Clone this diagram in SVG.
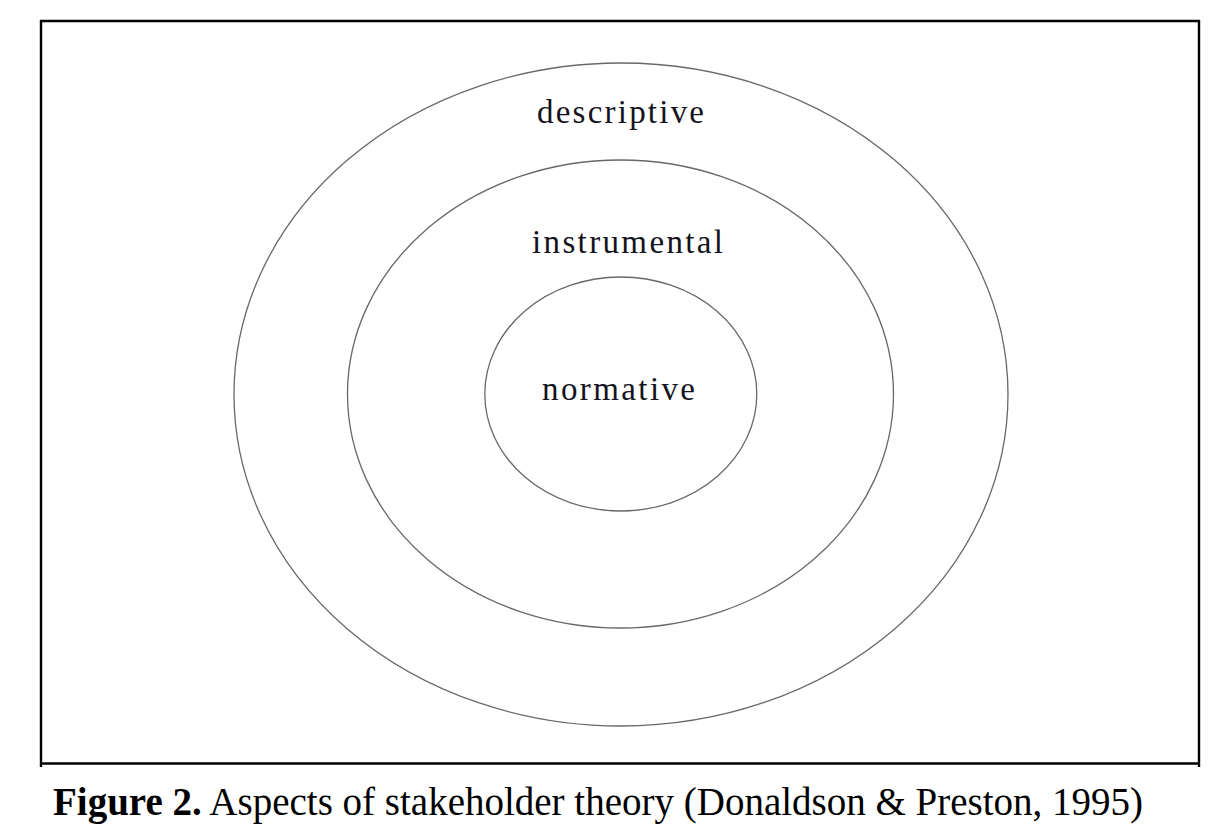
<svg xmlns="http://www.w3.org/2000/svg" width="1230" height="834" viewBox="0 0 1230 834">
  <style>
    .ring { fill: none; stroke: #686868; stroke-width: 1.3; }
    .frame { stroke: #000; stroke-width: 2.4; fill: none; }
    .lbl { font-family: "Liberation Serif", "Times New Roman", serif; font-size: 33px; fill: #141420; }
    .cap { font-family: "Liberation Serif", "Times New Roman", serif; font-size: 39px; fill: #000; }
  </style>
  <rect width="1230" height="834" fill="#fff"/>
  <g id="frame">
    <line class="frame" x1="40" y1="21" x2="1200" y2="21"/>
    <line class="frame" x1="41" y1="20" x2="41" y2="767"/>
    <line class="frame" x1="1199" y1="20" x2="1199" y2="767"/>
    <line class="frame" x1="40" y1="763.5" x2="1200" y2="763.5"/>
  </g>
  <g id="descriptive">
    <ellipse class="ring" cx="621" cy="394.5" rx="387" ry="331.5"/>
    <text class="lbl" x="537" y="123" textLength="167" lengthAdjust="spacing">descriptive</text>
  </g>
  <g id="instrumental">
    <ellipse class="ring" cx="620.5" cy="394" rx="273" ry="234"/>
    <text class="lbl" x="532" y="253" textLength="191" lengthAdjust="spacing">instrumental</text>
  </g>
  <g id="normative">
    <ellipse class="ring" cx="620.8" cy="394" rx="136" ry="117"/>
    <text class="lbl" x="542" y="400" textLength="153" lengthAdjust="spacing">normative</text>
  </g>
  <g id="connectors"></g>
  <g id="caption">
    <text class="cap" x="53" y="815"><tspan font-weight="bold">Figure 2.</tspan> Aspects of stakeholder theory (Donaldson &amp; Preston, 1995)</text>
  </g>
</svg>
